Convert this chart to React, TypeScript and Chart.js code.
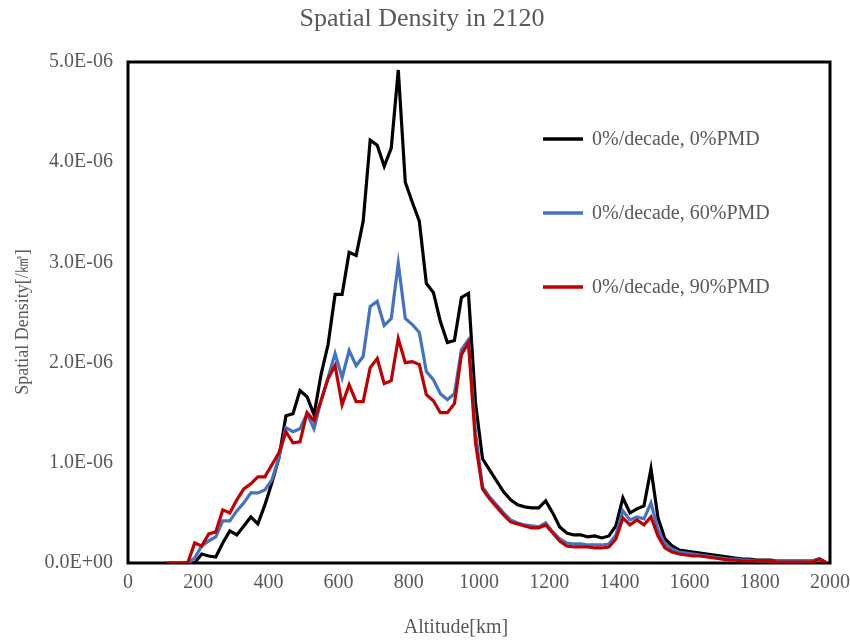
import React, { useEffect, useRef } from "react";
import { Chart, registerables } from "chart.js";
Chart.register(...registerables);

// Altitude bins [km]
const altitudes = [
  110, 130, 150, 170, 190, 210, 230, 250, 270, 290,
  310, 330, 350, 370, 390, 410, 430, 450, 470, 490,
  510, 530, 550, 570, 590, 610, 630, 650, 670, 690,
  710, 730, 750, 770, 790, 810, 830, 850, 870, 890,
  910, 930, 950, 970, 990, 1010, 1030, 1050, 1070, 1090,
  1110, 1130, 1150, 1170, 1190, 1210, 1230, 1250, 1270, 1290,
  1310, 1330, 1350, 1370, 1390, 1410, 1430, 1450, 1470, 1490,
  1510, 1530, 1550, 1570, 1590, 1610, 1630, 1650, 1670, 1690,
  1710, 1730, 1750, 1770, 1790, 1810, 1830, 1850, 1870, 1890,
  1910, 1930, 1950, 1970, 1990,
];

// Spatial density, in units of 1E-06 /km^3
const pmd0 = [
  0, 0, 0, 0, 0, 0.09, 0.07, 0.06, 0.2, 0.32,
  0.28, 0.37, 0.46, 0.39, 0.58, 0.8, 1.05, 1.47, 1.49, 1.72,
  1.66, 1.48, 1.88, 2.18, 2.68, 2.68, 3.1, 3.07, 3.41, 4.22,
  4.17, 3.96, 4.14, 4.92, 3.8, 3.6, 3.41, 2.79, 2.7, 2.41,
  2.2, 2.22, 2.65, 2.69, 1.6, 1.04, 0.93, 0.82, 0.71, 0.63,
  0.58, 0.56, 0.55, 0.55, 0.62, 0.5, 0.36, 0.3, 0.28, 0.28,
  0.26, 0.27, 0.25, 0.27, 0.37, 0.65, 0.5, 0.54, 0.57, 0.94,
  0.45, 0.24, 0.17, 0.13, 0.12, 0.11, 0.1, 0.09, 0.08, 0.07,
  0.06, 0.05, 0.04, 0.04, 0.03, 0.03, 0.03, 0.02, 0.02, 0.02,
  0.02, 0.02, 0.02, 0.04, 0,
];

const pmd60 = [
  0, 0, 0, 0, 0.05, 0.17, 0.22, 0.26, 0.42, 0.42,
  0.52, 0.6, 0.7, 0.7, 0.73, 0.83, 1.05, 1.35, 1.31, 1.34,
  1.49, 1.34, 1.62, 1.85, 2.09, 1.85, 2.12, 1.97, 2.06, 2.56,
  2.61, 2.37, 2.44, 2.99, 2.44, 2.38, 2.3, 1.91, 1.83, 1.69,
  1.63, 1.69, 2.13, 2.23, 1.3, 0.76, 0.66, 0.58, 0.5, 0.43,
  0.4, 0.38, 0.37, 0.36, 0.4, 0.31, 0.24, 0.2, 0.19, 0.19,
  0.18, 0.18, 0.18, 0.19, 0.28, 0.52, 0.43, 0.46, 0.44, 0.6,
  0.33, 0.19, 0.14, 0.11, 0.1, 0.09, 0.08, 0.07, 0.06, 0.05,
  0.04, 0.04, 0.03, 0.03, 0.02, 0.02, 0.02, 0.02, 0.02, 0.02,
  0.02, 0.02, 0.02, 0.04, 0,
];

const pmd90 = [
  0, 0, 0, 0, 0.2, 0.17, 0.29, 0.31, 0.53, 0.5,
  0.63, 0.74, 0.79, 0.86, 0.86, 0.98, 1.1, 1.31, 1.2, 1.21,
  1.5, 1.42, 1.62, 1.84, 1.97, 1.58, 1.78, 1.61, 1.61, 1.95,
  2.04, 1.79, 1.82, 2.24, 2.0, 2.01, 1.98, 1.68, 1.62, 1.5,
  1.5, 1.59, 2.08, 2.2, 1.2, 0.74, 0.64, 0.56, 0.48, 0.41,
  0.39, 0.37, 0.35, 0.35, 0.38, 0.3, 0.22, 0.17, 0.16, 0.16,
  0.16, 0.15, 0.15, 0.16, 0.24, 0.45, 0.38, 0.43, 0.38, 0.46,
  0.27, 0.15, 0.11, 0.09, 0.08, 0.07, 0.07, 0.06, 0.05, 0.04,
  0.03, 0.03, 0.02, 0.02, 0.02, 0.02, 0.02, 0.01, 0.01, 0.01,
  0.01, 0.01, 0.01, 0.04, 0,
];

const seriesLabels = [
  "0%/decade, 0%PMD",
  "0%/decade, 60%PMD",
  "0%/decade, 90%PMD",
];
const seriesColors = ["#000000", "#4472C4", "#C00000"];

const titleText = "Spatial Density in 2120";
const xTitle = "Altitude[km]";
const yTitle = "Spatial Density[/㎦]";
const yTicks = [0, 1, 2, 3, 4, 5];

const FONT = '"Liberation Serif", "Times New Roman", serif';
const TEXT = "#595959";

const decor = {
  id: "decor",
  beforeDatasetsDraw(chart: any) {
    const { ctx, chartArea: a } = chart;
    ctx.save();
    ctx.strokeStyle = "#000";
    ctx.lineWidth = 3;
    ctx.strokeRect(a.left, a.top, a.right - a.left, a.bottom - a.top);
    ctx.restore();
  },
  afterDraw(chart: any) {
    const { ctx } = chart;
    ctx.save();
    ctx.fillStyle = TEXT;
    ctx.textAlign = "center";
    ctx.textBaseline = "middle";
    ctx.font = `26px ${FONT}`;
    ctx.fillText(titleText, 422, 19);
    ctx.font = `20px ${FONT}`;
    ctx.fillText(xTitle, 456, 628);
    ctx.save();
    ctx.translate(23, 322);
    ctx.rotate(-Math.PI / 2);
    ctx.font = `18px ${FONT}`;
    ctx.fillText(yTitle, 0, 0);
    ctx.restore();
    // legend
    const ys = [139, 213, 287];
    ctx.textAlign = "left";
    ctx.font = `20px ${FONT}`;
    seriesLabels.forEach((lab, i) => {
      ctx.strokeStyle = seriesColors[i];
      ctx.lineWidth = 3.5;
      ctx.beginPath();
      ctx.moveTo(543, ys[i]);
      ctx.lineTo(583, ys[i]);
      ctx.stroke();
      ctx.fillStyle = TEXT;
      ctx.fillText(lab, 592, ys[i] + 1);
    });
    ctx.restore();
  },
};

export default function App() {
  const ref = useRef<HTMLCanvasElement>(null);
  useEffect(() => {
    const series = [pmd0, pmd60, pmd90];
    const chart = new Chart(ref.current!, {
      type: "line",
      data: {
        datasets: series.map((s, i) => ({
          label: seriesLabels[i],
          data: altitudes.map((x, j) => ({ x, y: s[j] })),
          borderColor: seriesColors[i],
          backgroundColor: seriesColors[i],
          borderWidth: 3.2,
          pointRadius: 0,
          tension: 0,
          fill: false,
          order: 3 - i,
        })),
      },
      options: {
        animation: false,
        responsive: false,
        events: [],
        layout: { padding: { left: 0, right: 20, top: 62, bottom: 0 } },
        plugins: {
          legend: { display: false },
          title: { display: false },
          tooltip: { enabled: false },
        },
        scales: {
          x: {
            type: "linear",
            min: 0,
            max: 2000,
            grid: { display: false, drawTicks: false },
            border: { display: false },
            ticks: {
              stepSize: 200,
              color: TEXT,
              font: { family: FONT, size: 20 },
              padding: 8,
              maxRotation: 0,
              callback: (v: any) => String(v),
            },
            afterFit(scale: any) {
              scale.height = 80;
              scale.paddingLeft = 0;
              scale.paddingRight = 0;
            },
          },
          y: {
            min: 0,
            max: 5,
            grid: { display: false, drawTicks: false },
            border: { display: false },
            afterBuildTicks(scale: any) {
              scale.ticks = yTicks.map((v) => ({ value: v }));
            },
            ticks: {
              color: TEXT,
              font: { family: FONT, size: 20 },
              padding: 15,
              callback: (v: any) =>
                Number(v) === 0 ? "0.0E+00" : `${Number(v).toFixed(1)}E-06`,
            },
            afterFit(scale: any) {
              scale.width = 128;
              scale.paddingTop = 0;
              scale.paddingBottom = 0;
            },
          },
        },
      },
      plugins: [decor],
    });
    return () => chart.destroy();
  }, []);
  return (
    <div
      style={{
        position: "fixed",
        left: 0,
        top: 0,
        width: 850,
        height: 643,
        background: "#fff",
      }}
    >
      <canvas ref={ref} width={850} height={643} style={{ display: "block" }} />
    </div>
  );
}
